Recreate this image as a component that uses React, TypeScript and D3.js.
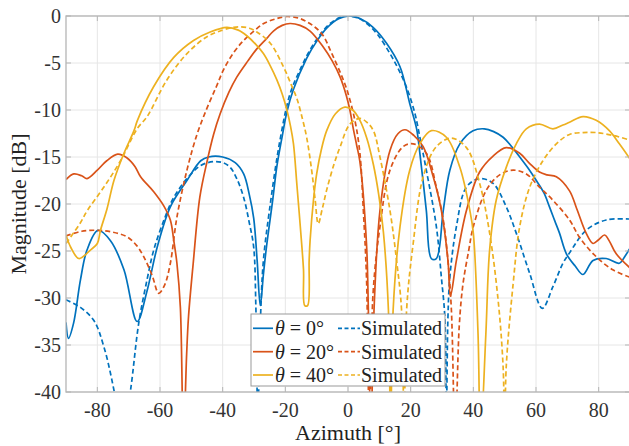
import React from "react";
import * as d3 from "d3";

type Pt = [number, number];

// Azimuth [deg], magnitude [dB]
const blueMeasured: Pt[] = [
  [-90, -32.6], [-89.2, -34.3], [-87.6, -32.7], [-85.4, -28.1], [-83.3, -24.9], [-79.8, -22.8],
  [-75.8, -23.9], [-71.5, -27], [-67.3, -32.5], [-64.1, -29.2], [-60.9, -24.6], [-56.7, -20.3],
  [-51.4, -17.5], [-47, -15.4], [-44.5, -15.0], [-40, -15.0], [-36, -15.6], [-33.3, -16.8],
  [-31.5, -19], [-30.1, -21.5], [-29, -26], [-28, -30.8], [-27, -27.5], [-26, -24.5], [-24, -19.5],
  [-22.7, -16], [-21, -12.8], [-19.5, -10.2], [-17.4, -7.8], [-13.2, -4.5], [-10, -2.7], [-6.8, -1.3],
  [-3, -0.3], [0.5, 0], [4, -0.3], [8, -1.2], [12.3, -2.9], [16.6, -5.4], [19.7, -9.3], [21.9, -12],
  [22.9, -14.5], [25, -20.7], [26.6, -25.8], [28.2, -25.8], [30.4, -20.7], [32.5, -16.4],
  [35.7, -13.6], [39.9, -12.2], [43.5, -12.0], [46.5, -12.3], [49.5, -12.9], [52, -13.8],
  [54.8, -15], [57.5, -16.2], [60.1, -17.5], [62.5, -18.8], [64.3, -20.3], [66, -21.8], [67.5, -23.1],
  [69.7, -25.3], [72.5, -26.6], [75, -27.5], [78.2, -26], [82.4, -25.8], [86.6, -26.3], [88.5, -25.5],
  [90, -24.7],
];

const blueSimulated: Pt[] = [
  [-90, -30.2], [-85.4, -31], [-81.1, -32.4], [-77.9, -35.2], [-74.7, -39.8], [-72, -45],
  [-69.4, -39.8], [-66.8, -32.7], [-64.1, -28], [-62, -24.9], [-58.5, -21.5], [-55.6, -19.3],
  [-51.4, -17.3], [-47, -15.9], [-43, -15.5], [-40, -15.6], [-37.6, -16.1], [-35.5, -17.3],
  [-33.3, -19.3], [-31.5, -22], [-30.1, -24.6], [-29.4, -31], [-28.8, -42], [-27.8, -31],
  [-27, -26], [-25, -20.5], [-21.7, -13.2], [-18.5, -8.3], [-15, -5.5], [-12.1, -3.6], [-8.5, -1.8],
  [-5.7, -0.8], [-2.5, -0.15], [0, 0], [3, -0.2], [6, -0.8], [9.5, -2.0], [13.4, -4], [16, -5.6],
  [18.7, -7.6], [21.3, -10.3], [23, -13], [25, -16.4], [28.2, -22.4], [29.8, -27.8], [30.9, -32],
  [31.4, -42], [31.9, -32], [32.5, -27.8], [34.6, -22.4], [37.8, -18.2], [42, -17.3], [46.3, -17.8],
  [50.5, -20.3], [53.7, -23.1], [58, -27.4], [62, -31.1], [65.4, -28.8], [68.6, -26.3],
  [70.7, -25.2], [76, -22.8], [82.4, -21.7], [90, -21.6],
];

const orangeMeasured: Pt[] = [
  [-90, -17.4], [-87.5, -16.8], [-85, -17], [-83.3, -17.3], [-80, -16.4], [-77, -15.4], [-73.5, -14.7],
  [-70.5, -15.1], [-68, -16], [-66.2, -17.1], [-62, -18.7], [-58.8, -20.2], [-56.7, -21.7],
  [-55.6, -23.9], [-54.6, -26.3], [-53.5, -31], [-52.5, -45], [-51.5, -36], [-50.9, -32],
  [-49.4, -26.3], [-47.3, -19.3], [-45, -15.5], [-42.9, -12.6], [-40.8, -10.4], [-38, -8.1],
  [-35.5, -6.5], [-32, -4.8], [-29.1, -3.5], [-26, -2.4], [-23.8, -1.6], [-21, -1.0], [-18.5, -0.8],
  [-15.3, -1.0], [-12.1, -1.6], [-7.9, -3.3], [-5, -4.8], [-2.5, -6.5], [-0.5, -8.5], [0.6, -10],
  [1.7, -12], [2.8, -13.8], [3.8, -15.5], [5.9, -24.2], [6.5, -31.3], [7.3, -45], [8.3, -31.3],
  [10.2, -20.7], [13.4, -14.3], [16, -12.5], [18.2, -12.1], [21, -12.7], [24, -13.9], [27.2, -17.1],
  [29.8, -20.7], [31.9, -26], [32.7, -29.8], [34.6, -26], [37.8, -20.7], [42, -16.6], [46.3, -14.9],
  [50.5, -14], [54.8, -14.6], [58, -15.7], [61.1, -16.6], [63.5, -16.9], [66.5, -17.1], [70.7, -18.6],
  [73, -20.5], [76, -23.1], [78.2, -24.2], [80, -23.8], [81.9, -23.3], [83.5, -24], [85.6, -25.3],
  [90, -26.8],
];

const orangeSimulated: Pt[] = [
  [-90, -23.4], [-85, -22.9], [-80, -22.8], [-75, -23], [-70.5, -23.5], [-67.5, -24.4], [-65.2, -25.6],
  [-62.5, -27.6], [-60.4, -29.5], [-58.5, -28.6], [-56.7, -26.3], [-54.6, -21.4], [-51.4, -16.4],
  [-48.2, -12.6], [-45, -9.8], [-42, -7.5], [-39.7, -5.7], [-36.5, -3.9], [-33.3, -2.6], [-30, -1.6],
  [-26.9, -0.8], [-23, -0.3], [-19.5, -0.05], [-16, -0.2], [-13.2, -0.6], [-10.5, -1.2], [-7.9, -2.1],
  [-5.7, -3.6], [-3, -5.6], [-0.4, -7.8], [2.2, -11.1], [3.8, -14.6], [4.9, -20.7], [5.9, -27.8],
  [6.9, -45], [8, -29.5], [10.2, -22.4], [13.4, -16.4], [17.6, -13.9], [20.8, -13.6], [25, -14.6],
  [28.2, -18.2], [30.4, -21.7], [31.9, -26], [33, -31.3], [34.2, -45], [35.5, -33], [36.7, -28.5],
  [38.5, -25], [40, -22.4], [44.2, -18.5], [48.4, -16.9], [52.7, -16.4], [56.9, -16.8], [61.1, -18.2],
  [65.4, -19.6], [70.7, -21.7], [74, -23.6], [79.2, -25.6], [84.5, -27], [90, -27.8],
];

const yellowMeasured: Pt[] = [
  [-90, -23.3], [-88.5, -24.6], [-85.9, -25.8], [-82.2, -24.9], [-80, -24.2], [-79, -22.8],
  [-76.9, -20.5], [-74.7, -17.5], [-71.5, -14.6], [-68.3, -12.2], [-67.2, -11.1], [-62, -7.5],
  [-55.6, -4.4], [-49.3, -2.6], [-44, -1.7], [-38.7, -1.2], [-35, -1.5], [-32.3, -2.1], [-29.5, -3],
  [-27, -4], [-24.8, -5.3], [-22.7, -6.8], [-21, -8.3], [-19.5, -10], [-18.3, -11.8], [-17.4, -13.6],
  [-16.3, -18], [-15.2, -22.5], [-14.2, -27], [-13.8, -30.8], [-12.9, -30.8], [-12.4, -26],
  [-12.1, -23.9], [-11, -19.5], [-10, -16.8], [-8.5, -14.2], [-6.8, -12.2], [-4, -10.4], [-1, -9.7],
  [1.5, -10], [3.8, -11.1], [6, -13], [8.1, -15.8], [9.8, -19], [11.3, -23], [12.9, -31.3],
  [13.6, -45], [14.4, -31.3], [16.6, -22.4], [19.7, -16.4], [22.9, -13.6], [26.6, -12.2],
  [31.4, -12.9], [35.7, -16.1], [38.9, -20.7], [40, -23.1], [41.5, -33.8], [42.3, -45], [44, -33.8],
  [45.2, -24.9], [47.3, -19.6], [50.5, -16.1], [53.7, -13.6], [56.9, -12], [61.1, -11.5], [65.4, -12],
  [68.6, -11.6], [70.7, -11.3], [75, -10.7], [79.2, -11.1], [83.4, -12.2], [86.6, -13.6], [90, -15.2],
];

const yellowSimulated: Pt[] = [
  [-90, -24.2], [-88.5, -23.5], [-85.4, -22], [-83.2, -20.7], [-77.9, -18.2], [-72.6, -15.4],
  [-67.3, -12], [-64.1, -10.7], [-57.8, -6.8], [-51.4, -4], [-45, -2.2], [-40, -1.5], [-36.5, -1.2],
  [-34.4, -1.15], [-31.5, -1.3], [-29.1, -1.7], [-24.8, -2.9], [-20.6, -5.4], [-18, -7.4],
  [-16.3, -8.8], [-14.5, -11], [-13.2, -12.9], [-11.6, -16.4], [-10.5, -19.5], [-9.5, -22.1],
  [-8.2, -20.5], [-6.8, -18.5], [-4.5, -15.8], [-2.5, -13.9], [0.6, -11.5], [3.8, -10.9], [6, -11.3],
  [8.1, -12.2], [10.2, -15], [13.4, -20.7], [15.5, -26], [17.1, -31.3], [17.9, -45], [18.7, -31.3],
  [20.8, -24.2], [24, -17.1], [28.2, -13.9], [33, -13], [37.8, -14], [42, -17.8], [45.2, -23.1],
  [47.9, -30.2], [49.5, -37.3], [50, -45], [50.5, -37.3], [52.7, -28.5], [54.8, -22.4], [58, -18.2],
  [62.2, -15.4], [66.5, -13.6], [70.7, -12.6], [75, -12.4], [79.2, -12.4], [84.5, -12.7], [90, -13.2],
];

const xTicks = [-80, -60, -40, -20, 0, 20, 40, 60, 80];
const xTickLabels = ["-80", "-60", "-40", "-20", "0", "20", "40", "60", "80"];
const yTicks = [0, -5, -10, -15, -20, -25, -30, -35, -40];
const yTickLabels = ["0", "-5", "-10", "-15", "-20", "-25", "-30", "-35", "-40"];

const legendAngles = ["0°", "20°", "40°"];

const COLORS = ["#0072BD", "#D95319", "#EDB120"];

const series = [
  { data: blueMeasured, color: COLORS[0], dashed: false },
  { data: blueSimulated, color: COLORS[0], dashed: true },
  { data: orangeMeasured, color: COLORS[1], dashed: false },
  { data: orangeSimulated, color: COLORS[1], dashed: true },
  { data: yellowMeasured, color: COLORS[2], dashed: false },
  { data: yellowSimulated, color: COLORS[2], dashed: true },
];

const W = 629;
const H = 446;
const PL = 66;
const PR = 630;
const PT = 16;
const PB = 392;
const FONT = "Liberation Serif, Tinos, Times New Roman, DejaVu Serif, serif";

export default function App() {
  const x = d3.scaleLinear().domain([-90, 90]).range([PL, PR]);
  const y = d3.scaleLinear().domain([-40, 0]).range([PB, PT]);
  const line = d3
    .line<Pt>()
    .x((d) => x(d[0]))
    .y((d) => y(d[1]))
    .curve(d3.curveCatmullRom.alpha(0.5));

  const legX = 251;
  const legY = 314;
  const rowY = [328.3, 351.7, 375];
  const tStyle = { fontFamily: FONT };

  return (
    <svg
      width={W}
      height={H}
      style={{ position: "absolute", left: 0, top: 0, background: "#fff", fontFamily: FONT }}
    >
      <defs>
        <clipPath id="plotClip">
          <rect x={PL} y={PT} width={PR - PL} height={PB - PT} />
        </clipPath>
      </defs>
      <rect x={0} y={0} width={W} height={H} fill="#fff" />
      {xTicks.map((t) => (
        <line key={"gx" + t} x1={x(t)} x2={x(t)} y1={PT} y2={PB} stroke="#e6e6e6" strokeWidth={1} />
      ))}
      {yTicks.map((t) => (
        <line key={"gy" + t} x1={PL} x2={PR} y1={y(t)} y2={y(t)} stroke="#e6e6e6" strokeWidth={1} />
      ))}
      <g clipPath="url(#plotClip)">
        {series.map((s, i) => (
          <path
            key={i}
            d={line(s.data) || ""}
            fill="none"
            stroke={s.color}
            strokeWidth={1.7}
            strokeDasharray={s.dashed ? "5 3" : undefined}
          />
        ))}
      </g>
      <rect x={PL} y={PT} width={PR - PL} height={PB - PT} fill="none" stroke="#b5b5b5" strokeWidth={1.3} />
      {xTicks.map((t) => (
        <g key={"tx" + t}>
          <line x1={x(t)} x2={x(t)} y1={PB} y2={PB - 5} stroke="#b5b5b5" />
          <line x1={x(t)} x2={x(t)} y1={PT} y2={PT + 5} stroke="#b5b5b5" />
        </g>
      ))}
      {yTicks.map((t) => (
        <g key={"ty" + t}>
          <line x1={PL} x2={PL + 5} y1={y(t)} y2={y(t)} stroke="#b5b5b5" />
          <line x1={PR} x2={PR - 5} y1={y(t)} y2={y(t)} stroke="#b5b5b5" />
        </g>
      ))}
      {xTicks.map((t, i) => (
        <text key={"lx" + t} x={x(t)} y={417} textAnchor="middle" fontSize={20} fill="#333" style={tStyle}>
          {xTickLabels[i]}
        </text>
      ))}
      {yTicks.map((t, i) => (
        <text key={"ly" + t} x={61} y={y(t) + 7} textAnchor="end" fontSize={20} fill="#333" style={tStyle}>
          {yTickLabels[i]}
        </text>
      ))}
      <text x={(PL + PR) / 2} y={440} textAnchor="middle" fontSize={22} fill="#222" style={tStyle}>
        Azimuth [°]
      </text>
      <text
        transform={`translate(26, ${(PT + PB) / 2}) rotate(-90)`}
        textAnchor="middle"
        fontSize={22}
        fill="#222"
        style={tStyle}
      >
        Magnitude [dB]
      </text>
      <rect x={legX} y={legY} width={194} height={72} fill="#fff" stroke="#999" strokeWidth={1} />
      {legendAngles.map((a, i) => (
        <g key={"leg" + i}>
          <line x1={253} x2={273} y1={rowY[i]} y2={rowY[i]} stroke={COLORS[i]} strokeWidth={1.7} />
          <text x={275} y={rowY[i] + 7} fontSize={20} fill="#222" style={tStyle}>
            <tspan fontStyle="italic">θ</tspan>
            <tspan> = {a}</tspan>
          </text>
          <line
            x1={338}
            x2={360}
            y1={rowY[i]}
            y2={rowY[i]}
            stroke={COLORS[i]}
            strokeWidth={1.7}
            strokeDasharray="4 2.5"
          />
          <text x={361} y={rowY[i] + 7} fontSize={20} fill="#222" style={tStyle}>
            Simulated
          </text>
        </g>
      ))}
    </svg>
  );
}
